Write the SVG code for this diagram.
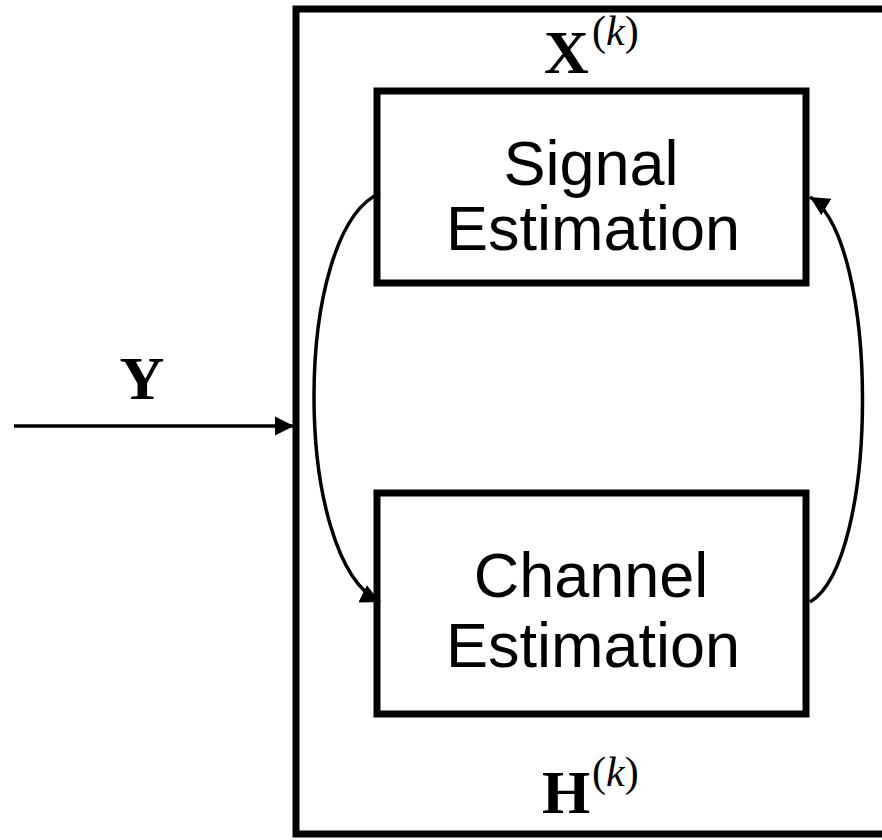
<svg xmlns="http://www.w3.org/2000/svg" width="882" height="840" viewBox="0 0 882 840">
  <style>
    .box { fill: #fff; stroke: #000; stroke-width: 7; }
    .wire { fill: none; stroke: #000; stroke-width: 3.5; }
    .lbl { font-family: "Liberation Sans", Arial, sans-serif; font-size: 63px; fill: #000; text-anchor: middle; }
    .sym { font-family: "Liberation Serif", "Times New Roman", serif; font-size: 62px; font-weight: bold; fill: #000; }
    .sup { font-family: "Liberation Serif", "Times New Roman", serif; font-size: 42px; fill: #000; }
    .it { font-style: italic; }
  </style>
  <defs>
    <marker id="arrow" viewBox="0 0 10 10" refX="10" refY="5" markerWidth="5.5" markerHeight="5.5" orient="auto" markerUnits="strokeWidth">
      <path d="M0,0 L10,5 L0,10 z" fill="#000"/>
    </marker>
  </defs>
  <rect width="882" height="840" fill="#fff"/>

  <!-- outer processing block (right side runs off the canvas) -->
  <g id="outer">
    <rect class="box" x="296" y="9" width="640" height="825"/>
  </g>

  <g id="signal-estimation">
    <rect class="box" x="377" y="91" width="429" height="192"/>
    <text class="lbl" x="591" y="185">Signal</text>
    <text class="lbl" x="593" y="250">Estimation</text>
  </g>

  <g id="channel-estimation">
    <rect class="box" x="377" y="493" width="429" height="221"/>
    <text class="lbl" x="591" y="597">Channel</text>
    <text class="lbl" x="593" y="667">Estimation</text>
  </g>

  <g id="label-x">
    <text class="sym" x="544" y="73">X</text>
    <text class="sup" x="592" y="45">(<tspan class="it">k</tspan>)</text>
  </g>

  <g id="label-h">
    <text class="sym" x="542" y="813">H</text>
    <text class="sup" x="592" y="786">(<tspan class="it">k</tspan>)</text>
  </g>

  <g id="label-y">
    <text class="sym" x="142" y="399" text-anchor="middle">Y</text>
  </g>

  <g id="connectors">
    <line class="wire" x1="14" y1="426" x2="294" y2="426" marker-end="url(#arrow)"/>
    <path class="wire" d="M380,193 C292,232 292,560 380,602" marker-end="url(#arrow)"/>
    <path class="wire" d="M810,602 C880,560 880,240 810,197" marker-end="url(#arrow)"/>
  </g>
</svg>
